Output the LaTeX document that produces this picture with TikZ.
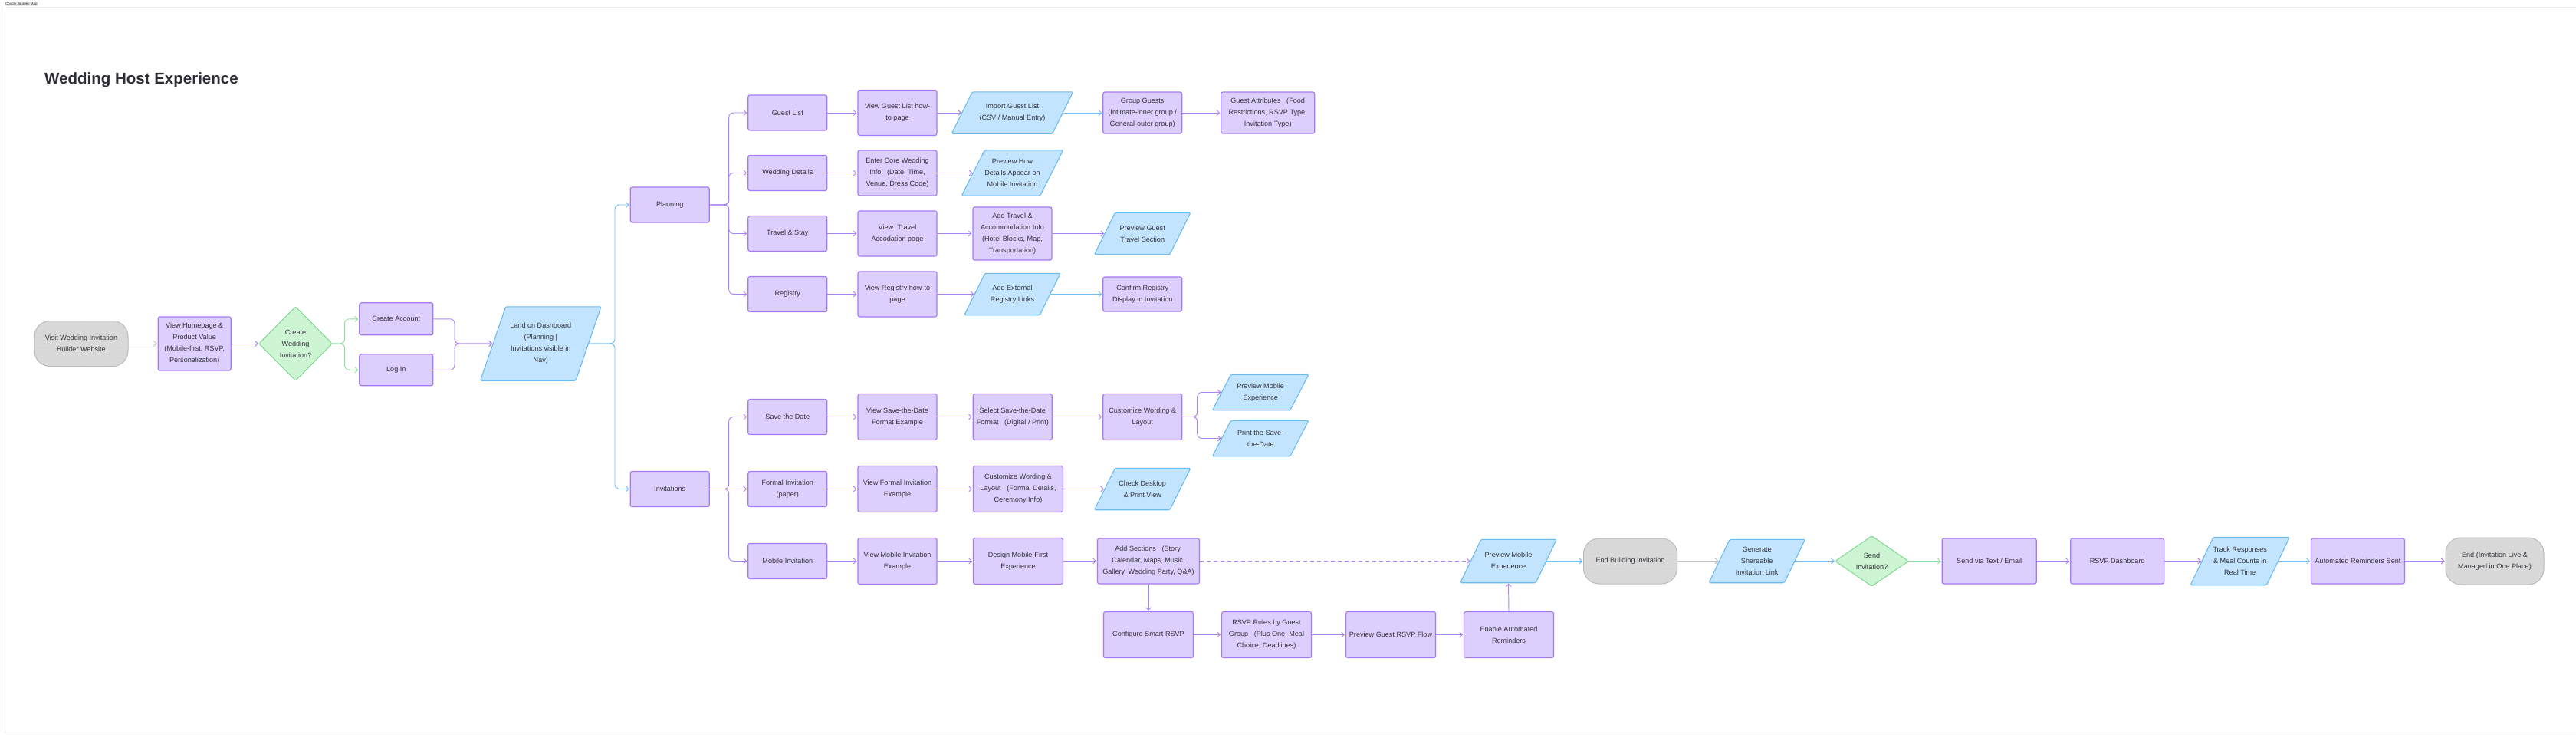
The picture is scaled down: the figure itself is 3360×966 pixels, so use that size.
\documentclass[tikz,border=0pt]{standalone}
\usepackage{fontspec}
\setmainfont{Liberation Sans}
\usetikzlibrary{arrows.meta,patterns.meta,backgrounds}
\definecolor{pfill}{HTML}{DCCFFD}
\definecolor{pbord}{HTML}{A679F6}
\definecolor{bfill}{HTML}{C2E4FE}
\definecolor{bbord}{HTML}{6ABAF5}
\definecolor{dfill}{HTML}{CDF5D4}
\definecolor{dbord}{HTML}{84DA97}
\definecolor{gfill}{HTML}{D9D9D9}
\definecolor{gbord}{HTML}{BBBBBB}
\definecolor{gdot}{HTML}{C8C8C8}
\definecolor{lpur}{HTML}{AB82F7}
\definecolor{lblue}{HTML}{72BDF3}
\definecolor{lgreen}{HTML}{8FDDA1}
\definecolor{lgray}{HTML}{C2C2C2}
\definecolor{tcol}{HTML}{33333B}
\definecolor{ttl}{HTML}{2D2D38}
\definecolor{frm}{HTML}{EBEBEB}
\newcommand\nodefont{\fontsize{9.1pt}{15pt}\selectfont}
\newcommand\drawpgram[2]{\filldraw[paradraw] ([xshift=-#2pt]#1.south west) -- ([xshift=#2pt]#1.north west) -- ([xshift=#2pt]#1.north east) -- ([xshift=-#2pt]#1.south east) -- cycle;}
\newcommand\drawdiam[1]{\filldraw[diadraw] (#1.west) -- (#1.north) -- (#1.east) -- (#1.south) -- cycle;}
\tikzset{
 txt/.style={align=center, font=\nodefont, text=tcol, inner sep=1pt},
 pbox/.style 2 args={txt, draw=pbord, fill=pfill, line width=1.15pt, rounded corners=2.5pt, minimum width=#1, minimum height=#2},
 tbox/.style 2 args={txt, draw=gbord, fill=gfill, line width=1pt, rounded corners=20pt, minimum width=#1, minimum height=#2, postaction={pattern={Dots[distance=4.5pt,radius=0.35pt]}, pattern color=gdot}},
 holder/.style 2 args={txt, minimum width=#1, minimum height=#2},
 paradraw/.style={draw=bbord, fill=bfill, line width=1.1pt, rounded corners=1.5pt},
 diadraw/.style={draw=dbord, fill=dfill, line width=1.1pt, rounded corners=1.5pt},
 conn/.style={line width=0.95pt, -{Straight Barb[length=3.5pt,width=7pt,line width=0.95pt]}, rounded corners=6pt, shorten >=1pt},
 cp/.style={conn, draw=lpur}, cb/.style={conn, draw=lblue}, cg/.style={conn, draw=lgreen}, cgr/.style={conn, draw=lgray}
}
\begin{document}
\begin{tikzpicture}[x=1pt,y=-1pt]
\useasboundingbox (0,0) rectangle (3360,966);
\begin{scope}[on background layer]
\fill[white] (0,0) rectangle (3360,966);
\draw[frm, line width=1pt] (3360,10) -- (6,10) -- (6,955) -- (3360,955);
\end{scope}
\node[fill=frm, inner sep=0.6pt, font=\fontsize{4.5pt}{5pt}\selectfont, text=tcol] (tag) at (28,5) {Couple Journey Map};
\node[anchor=base west, inner sep=0pt, font=\fontsize{20.5pt}{24pt}\selectfont\bfseries, text=ttl] (title) at (58,110) {Wedding Host Experience};
% main flow
\node[tbox={122}{59}] (visit) at (106,448) {Visit Wedding Invitation\\Builder Website};
\node[pbox={95}{70}] (home) at (253.7,448) {View Homepage \&\\Product Value\\(Mobile-first, RSVP,\\Personalization)};
\node[holder={95}{96}] (dia1) at (385.5,448) {Create\\Wedding\\Invitation?};
\node[pbox={96}{42}] (create) at (516.8,415.8) {Create Account};
\node[pbox={96}{41}] (login) at (516.8,482.3) {Log In};
\node[holder={124}{96}] (land) at (705.3,448) {Land on Dashboard\\(Planning |\\Invitations visible in\\Nav)};
\node[pbox={103}{46}] (planning) at (873.7,267) {Planning};
\node[pbox={103}{46}] (invit) at (873.7,637.5) {Invitations};
% planning rows
\node[pbox={103}{46}] (guest) at (1027.3,147) {Guest List};
\node[pbox={103}{46}] (wdet) at (1027.3,225.5) {Wedding Details};
\node[pbox={103}{46}] (travel) at (1027.3,304.5) {Travel \& Stay};
\node[pbox={103}{46}] (registry) at (1027.3,383.5) {Registry};
\node[pbox={103}{59}] (vguest) at (1170.5,147) {View Guest List how-\\to page};
\node[pbox={103}{59}] (enter) at (1170.5,225.5) {Enter Core Wedding\\Info~~~(Date, Time,\\Venue, Dress Code)};
\node[pbox={103}{59}] (vtravel) at (1170.5,304.5) {View~~Travel\\Accodation page};
\node[pbox={103}{59}] (vreg) at (1170.5,383.5) {View Registry how-to\\page};
\node[holder={131}{54}] (import) at (1320.5,147) {Import Guest List\\(CSV / Manual Entry)};
\node[holder={102}{59}] (prevhow) at (1320.5,225.5) {Preview How\\Details Appear on\\Mobile Invitation};
\node[pbox={103}{69}] (addtravel) at (1320.5,304.5) {Add Travel \&\\Accommodation Info\\(Hotel Blocks, Map,\\Transportation)};
\node[holder={98}{54}] (addext) at (1320.5,383.5) {Add External\\Registry Links};
\node[pbox={103}{54}] (group) at (1490.2,147) {Group Guests\\(Intimate-inner group /\\General-outer group)};
\node[pbox={122}{54}] (attrs) at (1653.7,147) {Guest Attributes~~~(Food\\Restrictions, RSVP Type,\\Invitation Type)};
\node[holder={98}{54}] (prevtravel) at (1490.2,304.5) {Preview Guest\\Travel Section};
\node[pbox={103}{45}] (confirm) at (1490.2,383.5) {Confirm Registry\\Display in Invitation};
% invitation rows
\node[pbox={103}{46}] (savedate) at (1027.3,543.5) {Save the Date};
\node[pbox={103}{46}] (formal) at (1027.3,637.5) {Formal Invitation\\(paper)};
\node[pbox={103}{46}] (mobile) at (1027.3,731.5) {Mobile Invitation};
\node[pbox={103}{60}] (vsave) at (1170.5,543.5) {View Save-the-Date\\Format Example};
\node[pbox={103}{60}] (vformal) at (1170.5,637.5) {View Formal Invitation\\Example};
\node[pbox={103}{60}] (vmobile) at (1170.5,731.5) {View Mobile Invitation\\Example};
\node[pbox={103}{60}] (selsave) at (1320.8,543.5) {Select Save-the-Date\\Format~~~(Digital / Print)};
\node[pbox={117}{60}] (custformal) at (1328,637.5) {Customize Wording \&\\Layout~~~(Formal Details,\\Ceremony Info)};
\node[pbox={117}{60}] (design) at (1328,731.5) {Design Mobile-First\\Experience};
\node[pbox={103}{60}] (custsave) at (1490.2,543.5) {Customize Wording \&\\Layout};
\node[holder={98}{54}] (checkdesk) at (1490.2,637.5) {Check Desktop\\\& Print View};
\node[pbox={133}{59}] (addsec) at (1498,731.5) {Add Sections~~~(Story,\\Calendar, Maps, Music,\\Gallery, Wedding Party, Q\&A)};
\node[holder={101}{46}] (prevmob1) at (1644.2,511.5) {Preview Mobile\\Experience};
\node[holder={101}{46}] (printsave) at (1644.2,571.5) {Print the Save-\\the-Date};
% bottom row
\node[pbox={117}{60}] (config) at (1498,827.5) {Configure Smart RSVP};
\node[pbox={117}{60}] (rules) at (1652,827.5) {RSVP Rules by Guest\\Group~~~(Plus One, Meal\\Choice, Deadlines)};
\node[pbox={117}{60}] (prevrsvp) at (1814,827.5) {Preview Guest RSVP Flow};
\node[pbox={117}{60}] (enable) at (1968,827.5) {Enable Automated\\Reminders};
% right row
\node[holder={98}{56}] (prevmob2) at (1967.5,731.5) {Preview Mobile\\Experience};
\node[tbox={122}{59}] (endbuild) at (2126.5,731.5) {End Building Invitation};
\node[holder={98}{56}] (generate) at (2291.7,731.5) {Generate\\Shareable\\Invitation Link};
\node[holder={95}{65}] (dia2) at (2441.5,731.5) {Send\\Invitation?};
\node[pbox={123}{59}] (sendvia) at (2594.7,731.5) {Send via Text / Email};
\node[pbox={122}{59}] (dash) at (2761.7,731.5) {RSVP Dashboard};
\node[holder={99}{62}] (track) at (2921.7,731.5) {Track Responses\\\& Meal Counts in\\Real Time};
\node[pbox={122}{59}] (autosent) at (3075.5,731.5) {Automated Reminders Sent};
\node[tbox={128}{61}] (endlive) at (3254,731.5) {End (Invitation Live \&\\Managed in One Place)};
% shapes behind holders
\begin{scope}[on background layer]
\drawdiam{dia1}
\drawdiam{dia2}
\drawpgram{land}{16.5}
\drawpgram{import}{13.5}
\drawpgram{prevhow}{15}
\drawpgram{addext}{13.5}
\drawpgram{prevtravel}{13.5}
\drawpgram{checkdesk}{13.5}
\drawpgram{prevmob1}{12}
\drawpgram{printsave}{12}
\drawpgram{prevmob2}{13.5}
\drawpgram{generate}{13.5}
\drawpgram{track}{15}
\end{scope}
% branch points
\coordinate (b1) at (449.6,448);
\coordinate (b2) at (593,448);
\coordinate (b3) at (802,448);
\coordinate (b4) at (950.7,267);
\coordinate (b5) at (950.7,637.5);
\coordinate (b6) at (1561.7,543.5);
% connectors
\draw[cgr] (visit.east) -- (home.west);
\draw[cp] (home.east) -- (dia1.west);
\draw[cg] (dia1.east) -- (b1) |- (create.west);
\draw[cg] (dia1.east) -- (b1) |- (login.west);
\draw[cp] (create.east) -| (b2) -- (land.west);
\draw[cp] (login.east) -| (b2) -- (land.west);
\draw[cb] (land.east) -- (b3) |- (planning.west);
\draw[cb] (land.east) -- (b3) |- (invit.west);
\draw[cp] (planning.east) -- (b4) |- (guest.west);
\draw[cp] (planning.east) -- (b4) |- (wdet.west);
\draw[cp] (planning.east) -- (b4) |- (travel.west);
\draw[cp] (planning.east) -- (b4) |- (registry.west);
\draw[cp] (invit.east) -- (b5) |- (savedate.west);
\draw[cp] (invit.east) -- (formal.west);
\draw[cp] (invit.east) -- (b5) |- (mobile.west);
\draw[cp] (guest.east) -- (vguest.west);
\draw[cp] (vguest.east) -- (import.west);
\draw[cb] (import.east) -- (group.west);
\draw[cp] (group.east) -- (attrs.west);
\draw[cp] (wdet.east) -- (enter.west);
\draw[cp] (enter.east) -- (prevhow.west);
\draw[cp] (travel.east) -- (vtravel.west);
\draw[cp] (vtravel.east) -- (addtravel.west);
\draw[cp] (addtravel.east) -- (prevtravel.west);
\draw[cp] (registry.east) -- (vreg.west);
\draw[cp] (vreg.east) -- (addext.west);
\draw[cb] (addext.east) -- (confirm.west);
\draw[cp] (savedate.east) -- (vsave.west);
\draw[cp] (vsave.east) -- (selsave.west);
\draw[cp] (selsave.east) -- (custsave.west);
\draw[cp] (custsave.east) -- (b6) |- (prevmob1.west);
\draw[cp] (custsave.east) -- (b6) |- (printsave.west);
\draw[cp] (formal.east) -- (vformal.west);
\draw[cp] (vformal.east) -- (custformal.west);
\draw[cp] (custformal.east) -- (checkdesk.west);
\draw[cp] (mobile.east) -- (vmobile.west);
\draw[cp] (vmobile.east) -- (design.west);
\draw[cp] (design.east) -- (addsec.west);
\draw[cp, dash pattern=on 5pt off 4pt] (addsec.east) -- (prevmob2.west);
\draw[cp] (addsec.south) -- (config.north);
\draw[cp] (config.east) -- (rules.west);
\draw[cp] (rules.east) -- (prevrsvp.west);
\draw[cp] (prevrsvp.east) -- (enable.west);
\draw[cp] (enable.north) -- (prevmob2.south);
\draw[cb] (prevmob2.east) -- (endbuild.west);
\draw[cgr] (endbuild.east) -- (generate.west);
\draw[cb] (generate.east) -- (dia2.west);
\draw[cg] (dia2.east) -- (sendvia.west);
\draw[cp] (sendvia.east) -- (dash.west);
\draw[cp] (dash.east) -- (track.west);
\draw[cb] (track.east) -- (autosent.west);
\draw[cp] (autosent.east) -- (endlive.west);
\end{tikzpicture}
\end{document}
